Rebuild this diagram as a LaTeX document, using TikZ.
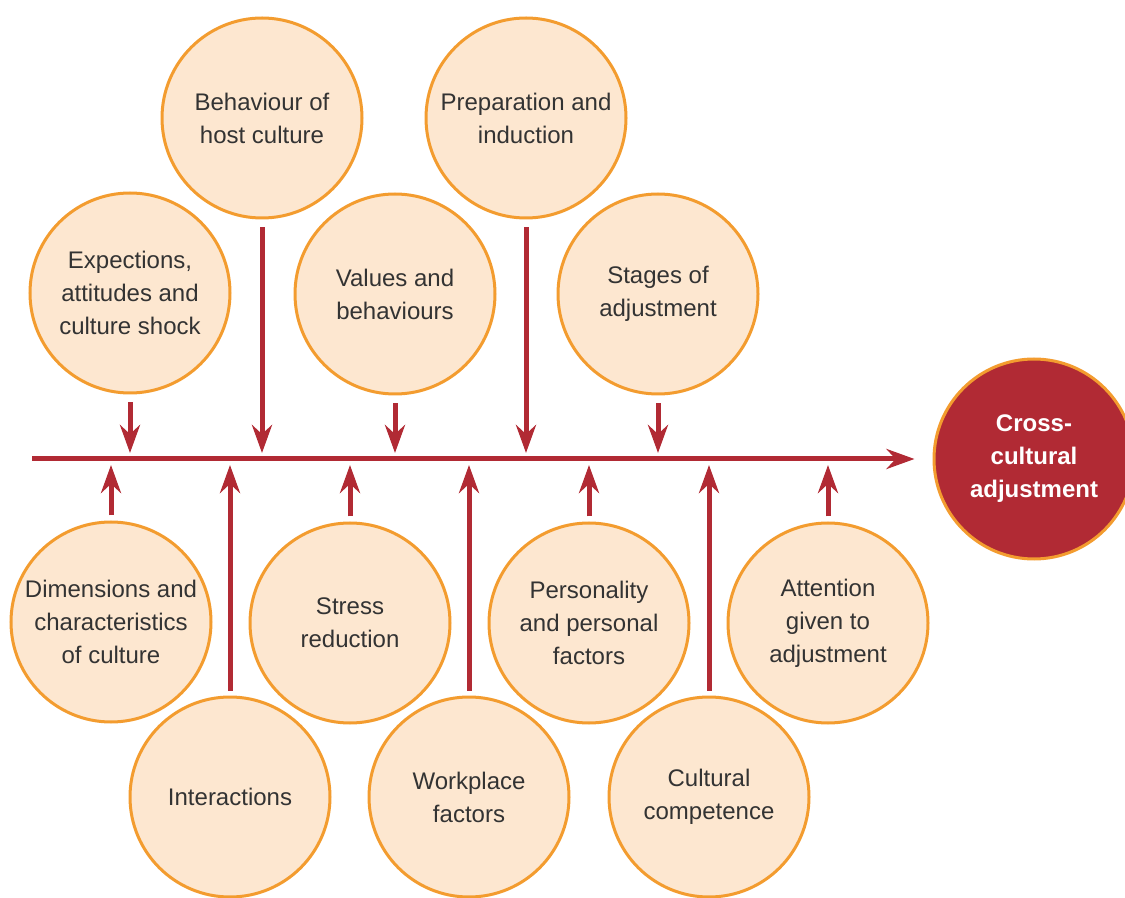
\documentclass[tikz,border=0pt]{standalone}
\usepackage{fontspec}
\setmainfont{Liberation Sans}
\usetikzlibrary{arrows.meta}
\usetikzlibrary{positioning}
\definecolor{peach}{HTML}{FDE7D0}
\definecolor{amber}{HTML}{F39C2F}
\definecolor{crimson}{HTML}{B12A34}
\definecolor{ink}{HTML}{333333}

\begin{document}
\begin{tikzpicture}[x=0.5pt, y=-0.5pt,
  factor/.style={circle, draw=amber, line width=1.5pt, fill=peach, minimum size=100pt,
    inner sep=0pt, align=center, text=ink, font=\fontsize{12}{16.5}\selectfont},
  outcome/.style={factor, fill=crimson, text=white, font=\fontsize{12}{16.5}\selectfont\bfseries},
  push/.style={draw=crimson, line width=2.5pt, -{Stealth[length=14pt,width=10pt]}, shorten <=4pt}]
\useasboundingbox (0,0) rectangle (1125,898);

% factors above the spine
\node[factor] (behaviour) at (262,118) {Behaviour of\\host culture};
\node[factor] (prep) at (526,118) {Preparation and\\induction};
\node[factor] (expect) at (130,293) {Expections,\\attitudes and\\culture shock};
\node[factor] (values) at (395,294) {Values and\\behaviours};
\node[factor] (stages) at (658,294) {Stages of\\adjustment};

% factors below the spine
\node[factor] (dims) at (111,622) {Dimensions and\\characteristics\\of culture};
\node[factor] (interact) at (230,797) {Interactions};
\node[factor] (stress) at (350,623) {Stress\\reduction};
\node[factor] (work) at (469,797) {Workplace\\factors};
\node[factor] (person) at (589,623) {Personality\\and personal\\factors};
\node[factor] (compet) at (709,797) {Cultural\\competence};
\node[factor] (attention) at (828,623) {Attention\\given to\\adjustment};

% outcome
\node[outcome] (adjust) at (1034,459) {Cross-\\cultural\\adjustment};

% spine
\coordinate (spine) at (32,459);
\draw[push, shorten <=0pt, shorten >=9pt] (spine) -- (adjust);

% arrows from above
\coordinate (expect-in) at (130,453);
\coordinate (behaviour-in) at (262,453);
\coordinate (values-in) at (395,453);
\coordinate (prep-in) at (526,453);
\coordinate (stages-in) at (658,453);
\draw[push] (expect) -- (expect-in);
\draw[push] (behaviour) -- (behaviour-in);
\draw[push] (values) -- (values-in);
\draw[push] (prep) -- (prep-in);
\draw[push] (stages) -- (stages-in);

% arrows from below
\coordinate (dims-in) at (111,465);
\coordinate (interact-in) at (230,465);
\coordinate (stress-in) at (350,465);
\coordinate (work-in) at (469,465);
\coordinate (person-in) at (589,465);
\coordinate (compet-in) at (709,465);
\coordinate (attention-in) at (828,465);
\draw[push, shorten <=2.5pt] (dims) -- (dims-in);
\draw[push, shorten <=2.5pt] (interact) -- (interact-in);
\draw[push, shorten <=2.5pt] (stress) -- (stress-in);
\draw[push, shorten <=2.5pt] (work) -- (work-in);
\draw[push, shorten <=2.5pt] (person) -- (person-in);
\draw[push, shorten <=2.5pt] (compet) -- (compet-in);
\draw[push, shorten <=2.5pt] (attention) -- (attention-in);
\end{tikzpicture}
\end{document}
